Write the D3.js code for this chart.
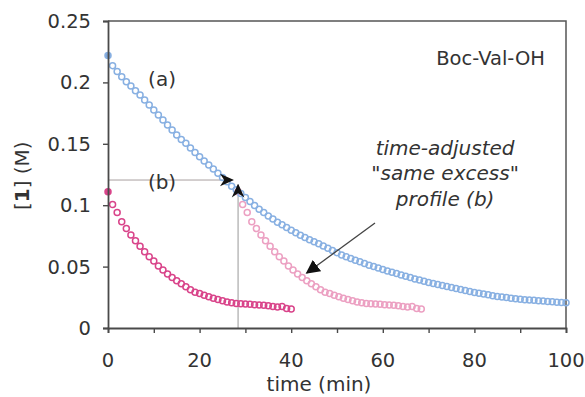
<!DOCTYPE html>
<html>
<head>
<meta charset="utf-8">
<script src="https://cdn.jsdelivr.net/npm/d3@7"></script>
<style>
  body { margin: 0; background: #fff; }
  text { font-family: "DejaVu Sans", Verdana, sans-serif; fill: #333; }
</style>
</head>
<body>
<div id="chart"></div>
<script>
// profile (a): Boc-Val-OH, full run
var timesA = d3.range(0, 101);
var valuesA = [
  0.222, 0.2136, 0.2088, 0.2047, 0.2006, 0.197, 0.1933, 0.1897, 0.1857, 0.1816,
  0.1775, 0.1735, 0.1694, 0.1653, 0.1612, 0.1572, 0.1536, 0.1504, 0.1465, 0.143,
  0.1395, 0.136, 0.1327, 0.1295, 0.126, 0.1225, 0.119, 0.1155, 0.1125, 0.1095,
  0.1062, 0.103, 0.0998, 0.0968, 0.094, 0.0912, 0.0887, 0.0862, 0.084, 0.0818,
  0.0797, 0.0776, 0.0756, 0.0737, 0.0718, 0.0703, 0.0686, 0.0668, 0.065, 0.0632,
  0.0613, 0.0595, 0.058, 0.0566, 0.0552, 0.0539, 0.0525, 0.0512, 0.05, 0.0488,
  0.0476, 0.0465, 0.0454, 0.0443, 0.0432, 0.0421, 0.0411, 0.04, 0.039, 0.038,
  0.037, 0.0362, 0.0354, 0.0346, 0.0338, 0.033, 0.0322, 0.0314, 0.0306, 0.0298,
  0.029, 0.0283, 0.0277, 0.027, 0.0263, 0.0257, 0.0252, 0.0248, 0.0243, 0.0239,
  0.0235, 0.0231, 0.0228, 0.0225, 0.0222, 0.0219, 0.0216, 0.0213, 0.021, 0.0208,
  0.0205
];

// profile (b): "same excess" run
var timesB = d3.range(0, 41);
var valuesB = [
  0.111, 0.1005, 0.094, 0.0866, 0.081, 0.0757, 0.0711, 0.0665, 0.062, 0.058,
  0.0545, 0.0505, 0.0472, 0.044, 0.0412, 0.0385, 0.036, 0.0335, 0.0312, 0.0292,
  0.028, 0.0266, 0.0254, 0.0242, 0.0232, 0.0222, 0.0212, 0.0205, 0.02, 0.0197,
  0.0195, 0.0193, 0.019, 0.0188, 0.0185, 0.0182, 0.0176, 0.017, 0.0176, 0.0158,
  0.0155
];

// time offset for the time-adjusted copy of (b)
var timeShift = 28.4;

var xTicks = d3.range(0, 101, 10);
var xLabels = [0, 20, 40, 60, 80, 100];
var yTicks = [0, 0.05, 0.1, 0.15, 0.2, 0.25];

var W = 585, H = 397;
var margin = {top: 21, right: 19, bottom: 69, left: 108};
var width = W - margin.left - margin.right;
var height = H - margin.top - margin.bottom;

var x = d3.scaleLinear().domain([0, 100]).range([0, width]);
var y = d3.scaleLinear().domain([0, 0.25]).range([height, 0]);

var svg = d3.select("#chart").append("svg")
  .attr("width", W)
  .attr("height", H);

var defs = svg.append("defs");
defs.append("marker")
  .attr("id", "head")
  .attr("viewBox", "0 0 10 10")
  .attr("refX", 9).attr("refY", 5)
  .attr("markerWidth", 14).attr("markerHeight", 14)
  .attr("markerUnits", "userSpaceOnUse")
  .attr("orient", "auto")
  .append("path")
  .attr("d", "M0,0.5 L10,5 L0,9.5 L3,5 Z")
  .attr("fill", "#111");
defs.append("marker")
  .attr("id", "bighead")
  .attr("viewBox", "0 0 10 10")
  .attr("refX", 9).attr("refY", 5)
  .attr("markerWidth", 14).attr("markerHeight", 14)
  .attr("markerUnits", "userSpaceOnUse")
  .attr("orient", "auto")
  .append("path")
  .attr("d", "M0,0 L10,5 L0,10 Z")
  .attr("fill", "#111");

var g = svg.append("g")
  .attr("transform", "translate(" + margin.left + "," + margin.top + ")");

// frame (top and right)
g.append("path")
  .attr("d", "M0,0 H" + width + " V" + height)
  .attr("fill", "none")
  .attr("stroke", "#555")
  .attr("stroke-width", 1.5);

// guide lines from the axes to the matching point
g.append("line")
  .attr("x1", x(0)).attr("y1", y(0.1205))
  .attr("x2", x(27.2)).attr("y2", y(0.1205))
  .attr("stroke", "#a99f9f").attr("stroke-width", 1);
g.append("line")
  .attr("x1", x(28.4)).attr("y1", y(0))
  .attr("x2", x(28.4)).attr("y2", y(0.1165))
  .attr("stroke", "#999").attr("stroke-width", 1);

function drawSeries(times, values, stroke, firstFill) {
  var pts = times.map(function(t, i) { return [t, values[i]]; });
  g.append("g").selectAll("circle")
    .data(pts)
    .enter().append("circle")
    .attr("cx", function(d) { return x(d[0]); })
    .attr("cy", function(d) { return y(d[1]); })
    .attr("r", 3)
    .attr("fill", function(d, i) { return (i === 0 && firstFill) ? firstFill : "none"; })
    .attr("stroke", stroke)
    .attr("stroke-width", 1.5);
}

drawSeries(timesB.map(function(t) { return t + timeShift; }), valuesB, "#eca0c2", null);
drawSeries(timesA, valuesA, "#88b0e2", "#7fa6d8");
drawSeries(timesB, valuesB, "#d9448a", "#d9448a");

// arrow heads of the guide lines, drawn on top of the points
g.append("line")
  .attr("x1", x(20)).attr("y1", y(0.1205))
  .attr("x2", x(27.2)).attr("y2", y(0.1205))
  .attr("stroke", "none")
  .attr("marker-end", "url(#head)");
g.append("line")
  .attr("x1", x(28.4)).attr("y1", y(0.08))
  .attr("x2", x(28.4)).attr("y2", y(0.1165))
  .attr("stroke", "none")
  .attr("marker-end", "url(#head)");

// pointer arrow to the time-adjusted profile
g.append("line")
  .attr("x1", x(58.3)).attr("y1", y(0.0855))
  .attr("x2", x(43.4)).attr("y2", y(0.0448))
  .attr("stroke", "#444").attr("stroke-width", 1.3)
  .attr("marker-end", "url(#bighead)");

// axes
var xAxis = g.append("g")
  .attr("transform", "translate(0," + height + ")")
  .call(d3.axisBottom(x).tickValues(xTicks).tickSize(5).tickFormat(""));
var yAxis = g.append("g")
  .call(d3.axisLeft(y).tickValues(yTicks).tickSize(5).tickFormat(""));
[xAxis, yAxis].forEach(function(a) {
  a.select(".domain").attr("stroke", "#4a4a4a").attr("stroke-width", 1.8);
  a.selectAll(".tick line").attr("stroke", "#4a4a4a").attr("stroke-width", 1.4);
});

g.append("g").selectAll("text")
  .data(xLabels)
  .enter().append("text")
  .attr("x", function(d) { return x(d); })
  .attr("y", height + 39)
  .attr("text-anchor", "middle")
  .attr("font-size", 19.5)
  .text(function(d) { return d; });

g.append("g").selectAll("text")
  .data(yTicks)
  .enter().append("text")
  .attr("x", -17)
  .attr("y", function(d) { return y(d); })
  .attr("dy", "0.36em")
  .attr("text-anchor", "end")
  .attr("font-size", 19.5)
  .text(function(d) { return d; });

// axis titles
g.append("text")
  .attr("x", width / 2 - 18)
  .attr("y", height + 63)
  .attr("text-anchor", "middle")
  .attr("font-size", 20)
  .text("time (min)");

var yt = svg.append("text")
  .attr("transform", "translate(29," + (margin.top + y(0.124)) + ") rotate(-90)")
  .attr("text-anchor", "middle")
  .attr("font-size", 20);
yt.append("tspan").text("[");
yt.append("tspan").attr("font-weight", "bold").text("1");
yt.append("tspan").text("] (M)");

// labels
g.append("text")
  .attr("x", x(11.8)).attr("y", y(0.197))
  .attr("text-anchor", "middle").attr("font-size", 20)
  .text("(a)");
g.append("text")
  .attr("x", x(11.8)).attr("y", y(0.113))
  .attr("text-anchor", "middle").attr("font-size", 20)
  .text("(b)");
g.append("text")
  .attr("x", x(95.4)).attr("y", y(0.214))
  .attr("text-anchor", "end").attr("font-size", 19.5)
  .text("Boc-Val-OH");

var noteLines = ["time-adjusted", "\"same excess\"", "profile (b)"];
var noteY = [0.141, 0.1205, 0.0993];
g.append("g").selectAll("text")
  .data(noteLines)
  .enter().append("text")
  .attr("x", x(73.6))
  .attr("y", function(d, i) { return y(noteY[i]); })
  .attr("text-anchor", "middle")
  .attr("font-size", 20)
  .attr("font-style", "italic")
  .text(function(d) { return d; });
</script>
</body>
</html>
